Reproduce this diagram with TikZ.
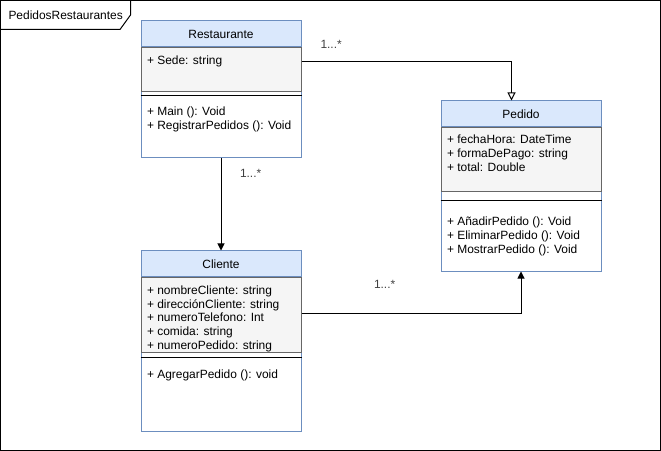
\documentclass[tikz,border=0pt]{standalone}
\usepackage{fontspec}
\setmainfont{Liberation Sans}
\usetikzlibrary{arrows.meta,positioning}
\definecolor{headblue}{HTML}{DAE8FC}
\definecolor{lineblue}{HTML}{6C8EBF}
\definecolor{attrgray}{HTML}{F5F5F5}
\definecolor{attrline}{HTML}{666666}
\tikzset{
  umlclass/.style={draw=lineblue,fill=white,anchor=north west,minimum width=160bp,inner sep=0pt},
  umlhead/.style={draw=lineblue,fill=headblue,anchor=north west,minimum width=160bp,minimum height=26bp,inner sep=0pt},
  umlattr/.style={draw=attrline,fill=attrgray,anchor=north west,minimum width=160bp,inner sep=0pt},
  members/.style={anchor=base west,inner sep=0pt},
  mult/.style={anchor=base west,inner sep=0pt,text=black!75},
  assoc/.style={-{Stealth[length=7bp,width=7bp,inset=0pt]}},
}
\begin{document}
\begin{tikzpicture}[x=1bp,y=-1bp,line width=1bp,font=\fontsize{12}{14}\selectfont]
        \useasboundingbox (0,0) rectangle (661,451);
        %% frame
        \draw (0.5,0.5) rectangle (660.5,450.5);
        \draw (0.5,29.5) -- (120,29.5) -- (130.5,15) -- (130.5,0.5);
        \node[members] (frame) at (8,19.5) {PedidosRestaurantes};
        %% Restaurante
        \node[umlclass,minimum height=136.5bp] (rest) at (140.5,20.5) {};
        \node[umlhead] (rest-h) at (rest.north west) {Restaurante};
        \node[umlattr,minimum height=44bp] (rest-a) at (rest-h.south west) {};
        \draw ([yshift=-3.5bp]rest-a.south west) -- ([yshift=-3.5bp]rest-a.south east);
        \node[members] (rest-a1) at (146.5,64.5) {+ Sede: string};
        \foreach \t [count=\i] in {+ Main (): Void,+ RegistrarPedidos (): Void}
            \node[members] (rest-m\i) at (146.5,102+14*\i) {\t};
        %% Pedido
        \node[umlclass,minimum height=170bp] (ped) at (440.5,100.5) {};
        \node[umlhead] (ped-h) at (ped.north west) {Pedido};
        \node[umlattr,minimum height=64bp] (ped-a) at (ped-h.south west) {};
        \draw ([yshift=-8.5bp]ped-a.south west) -- ([yshift=-8.5bp]ped-a.south east);
        \foreach \t [count=\i] in {+ fechaHora: DateTime,+ formaDePago: string,+ total: Double}
            \node[members] (ped-a\i) at (446.5,129.5+14*\i) {\t};
        \foreach \t [count=\i] in {+ AñadirPedido (): Void,+ EliminarPedido (): Void,+ MostrarPedido (): Void}
            \node[members] (ped-m\i) at (446.5,212+14*\i) {\t};
        %% Cliente
        \node[umlclass,minimum height=180bp] (cli) at (140.5,250.5) {};
        \node[umlhead] (cli-h) at (cli.north west) {Cliente};
        \node[umlattr,minimum height=74bp] (cli-a) at (cli-h.south west) {};
        \draw ([yshift=-5bp]cli-a.south west) -- ([yshift=-5bp]cli-a.south east);
        \foreach \t [count=\i] in {+ nombreCliente: string,+ direcciónCliente: string,+ numeroTelefono: Int,+ comida: string,+ numeroPedido: string}
            \node[members] (cli-a\i) at (146.5,280.5+13.8*\i) {\t};
        \node[members] (cli-m1) at (146.5,378.5) {+ AgregarPedido (): void};
        %% associations
        \draw[-{Triangle[open,length=8bp,width=8bp]}] ([yshift=-14bp]rest-a.north east) -| ([xshift=-9.5bp]ped.north);
        \node[mult] (m1) at (320,48.5) {1...*};
        \draw[assoc] (rest.south) -- (cli.north);
        \node[mult] (m2) at (239.5,178) {1...*};
        \draw[assoc] ([yshift=-36bp]cli-a.north east) -| (ped.south);
        \node[mult] (m3) at (373.5,289) {1...*};
    \end{tikzpicture}
\end{document}
